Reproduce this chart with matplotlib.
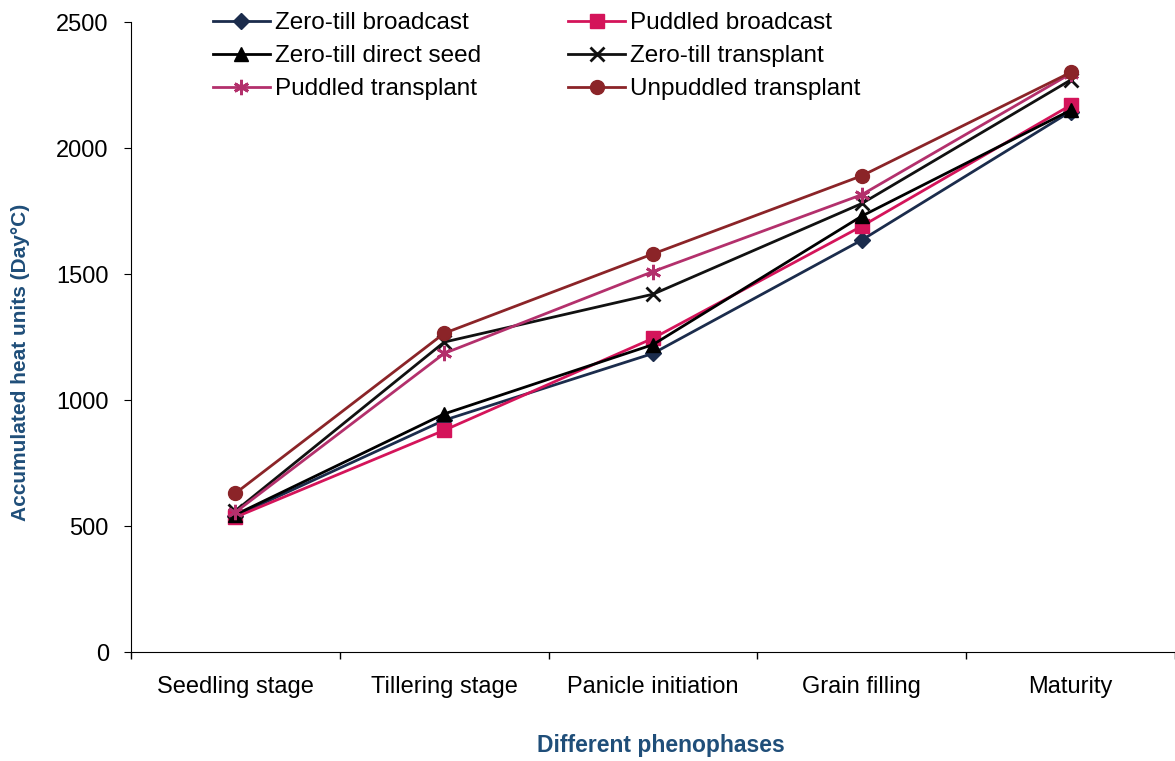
import numpy as np
import matplotlib.pyplot as plt

plt.rcParams['font.family'] = ['Liberation Sans', 'DejaVu Sans']

# Data
stages = ['Seedling stage', 'Tillering stage', 'Panicle initiation', 'Grain filling', 'Maturity']
zt_broadcast = [540, 920, 1185, 1635, 2145]
pud_broadcast = [535, 880, 1245, 1690, 2170]
zt_direct = [545, 945, 1220, 1730, 2150]
zt_transplant = [560, 1230, 1420, 1780, 2270]
pud_transplant = [555, 1185, 1510, 1815, 2295]
unpud_transplant = [630, 1265, 1580, 1890, 2300]

series = [
    ('Zero-till broadcast', zt_broadcast, '#1b2c4c', 'D', 8),
    ('Puddled broadcast', pud_broadcast, '#d4145a', 's', 10),
    ('Zero-till direct seed', zt_direct, '#000000', '^', 10),
    ('Zero-till transplant', zt_transplant, '#111111', 'x', 10),
    ('Puddled transplant', pud_transplant, '#b3306c', (6, 2, 0), 11),
    ('Unpuddled transplant', unpud_transplant, '#8b2428', 'o', 10),
]

fig = plt.figure(figsize=(11.75, 7.61), dpi=100)
ax = fig.add_axes([0.1115, 0.1432, 0.8885, 0.8278])

x = np.arange(len(stages))
lines = []
for name, vals, col, mk, ms in series:
    ln, = ax.plot(x, vals, color=col, marker=mk, markersize=ms, linewidth=2,
                  markeredgewidth=2 if mk in ('x', (6, 2, 0)) else 1, label=name)
    lines.append(ln)

ax.set_xlim(-0.5, len(stages) - 0.5)
ax.set_ylim(0, 2500)
ax.set_yticks([0, 500, 1000, 1500, 2000, 2500])
ax.set_xticks(x)
ax.set_xticklabels(stages)
ax.set_xticks(np.arange(-0.5, len(stages)), minor=True)
ax.tick_params(axis='x', which='major', length=0, labelsize=17, pad=17)
ax.tick_params(axis='x', which='minor', length=5, width=1)
ax.tick_params(axis='y', labelsize=17, length=5, pad=11)

ax.spines['top'].set_visible(False)
ax.spines['right'].set_visible(False)

ax.set_ylabel('Accumulated heat units (Day°C)', fontsize=15, fontweight='bold',
              color='#1f4e79')
ax.yaxis.set_label_coords(-0.097, 0.46)
ax.set_xlabel('Different phenophases', fontsize=16.5, fontweight='bold',
              color='#1f4e79')
ax.xaxis.set_label_coords(0.508, -0.13)

# row-major legend order
order = [0, 2, 4, 1, 3, 5]
ax.legend([lines[i] for i in order], [series[i][0] for i in order],
          loc='upper left', bbox_to_anchor=(0.181, 0.984),
          bbox_transform=fig.transFigure, ncol=2, frameon=False,
          fontsize=17.5, columnspacing=3.6, handlelength=2.35,
          handletextpad=0.2, labelspacing=0.45, borderpad=0, borderaxespad=0)

fig.savefig('out.png', dpi=100)
